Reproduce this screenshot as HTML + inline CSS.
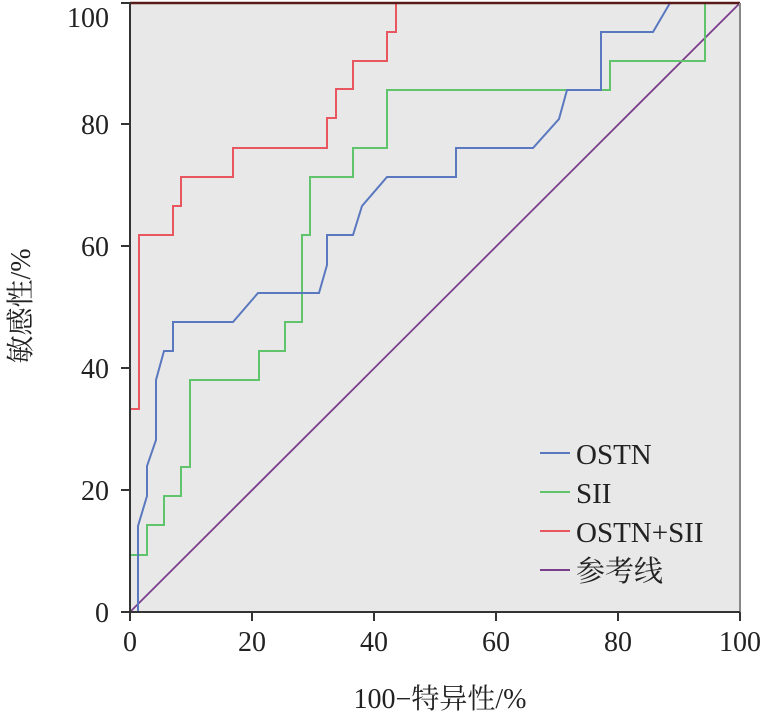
<!DOCTYPE html>
<html><head><meta charset="utf-8"><style>
html,body{margin:0;padding:0;background:#fff;}
</style></head><body>
<svg width="765" height="715" viewBox="0 0 765 715" xmlns="http://www.w3.org/2000/svg" style="display:block">
<rect x="130" y="3" width="610" height="609" fill="#e8e8e8"/>
<g fill="none" stroke-width="2" stroke-linejoin="miter">
<line x1="130" y1="612" x2="740" y2="3" stroke="#7a3f8c" stroke-width="1.8"/>
<polyline stroke="#5fc46c" points="130,612 130,555 147,555 147,525 164,525 164,496 181,496 181,467 190,467 190,380 259,380 259,351 285,351 285,322 302,322 302,235 310,235 310,177 353,177 353,148 387,148 387,90 610,90 610,61 705,61 705,3 740,3"/>
<polyline stroke="#5a78c0" points="130,612 138,612 138,526 147,496 147,466 156,440 156,380 164,351 173,351 173,322 233,322 258,293 319,293 327,265 327,235 353,235 362,206 387,177 456,177 456,148 533,148 559,119 567,90 601,90 601,32 653,32 670,3 740,3"/>
<polyline stroke="#e8575f" points="130,612 130,409 139,409 139,235 173,235 173,206 181,206 181,177 233,177 233,148 327,148 327,118 336,118 336,89 353,89 353,61 387,61 387,32 396,32 396,3 740,3"/>
</g>
<line x1="130" y1="3" x2="740" y2="3" stroke="#5a1a1a" stroke-width="2.5"/>
<line x1="740" y1="3" x2="740" y2="612" stroke="#888" stroke-width="2"/>
<g stroke="#333" stroke-width="2">
<line x1="130" y1="2" x2="130" y2="614"/>
<line x1="128" y1="612" x2="740" y2="612"/>
<line x1="121" y1="612" x2="130" y2="612"/><line x1="121" y1="490" x2="130" y2="490"/><line x1="121" y1="368" x2="130" y2="368"/><line x1="121" y1="246" x2="130" y2="246"/><line x1="121" y1="124" x2="130" y2="124"/><line x1="121" y1="3" x2="130" y2="3"/>
<line x1="130" y1="612" x2="130" y2="621"/><line x1="252" y1="612" x2="252" y2="621"/><line x1="374" y1="612" x2="374" y2="621"/><line x1="496" y1="612" x2="496" y2="621"/><line x1="618" y1="612" x2="618" y2="621"/><line x1="740" y1="612" x2="740" y2="621"/>
</g>
<g font-family="Liberation Serif, 'Noto Serif CJK SC', serif" font-size="28" fill="#222">
<g text-anchor="end">
<text x="109" y="622">0</text><text x="109" y="500">20</text><text x="109" y="378">40</text><text x="109" y="256">60</text><text x="109" y="134">80</text><text x="109" y="27">100</text>
</g>
<g text-anchor="middle">
<text x="130" y="651">0</text><text x="252" y="651">20</text><text x="374" y="651">40</text><text x="496" y="651">60</text><text x="618" y="651">80</text><text x="740" y="651">100</text>
<text x="440" y="708">100−特异性/%</text>
<text transform="translate(30,306) rotate(-90)">敏感性/%</text>
</g>
<g font-size="29">
<line x1="540" y1="453" x2="570" y2="453" stroke="#5a78c0" stroke-width="2"/><text x="576" y="464">OSTN</text>
<line x1="540" y1="492" x2="570" y2="492" stroke="#5fc46c" stroke-width="2"/><text x="576" y="503">SII</text>
<line x1="540" y1="531" x2="570" y2="531" stroke="#e8575f" stroke-width="2"/><text x="576" y="542">OSTN+SII</text>
<line x1="540" y1="570" x2="570" y2="570" stroke="#7a3f8c" stroke-width="2"/><text x="576" y="581">参考线</text>
</g>
</g>
</svg>
</body></html>
